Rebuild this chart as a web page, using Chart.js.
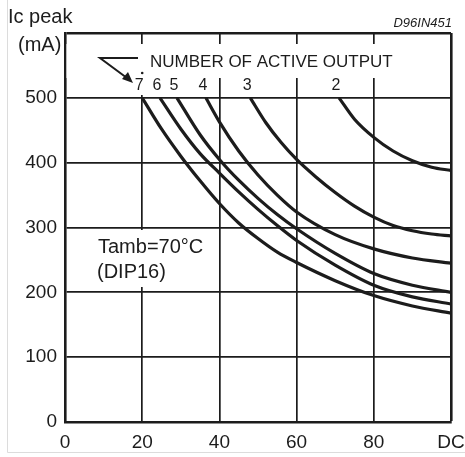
<!DOCTYPE html>
<html>
<head>
<meta charset="utf-8">
<script src="https://cdn.jsdelivr.net/npm/chart.js@4.4.1/dist/chart.umd.min.js"></script>
<style>
  body { margin: 0; background: #fff; }
  canvas { display: block; }
</style>
</head>
<body>
<canvas id="myChart" width="465" height="457"></canvas>
<script>
// duty cycle (%) and Ic peak (mA), one pair per number of active outputs
const dc7 = [20, 25, 30, 35, 40, 45, 50, 55, 60, 70, 80, 90, 100];
const ic7 = [500, 452, 410, 372, 337, 307, 283, 262, 246, 218, 195, 179, 168];

const dc6 = [24.6, 30, 35, 40, 45, 50, 55, 60, 70, 80, 90, 100];
const ic6 = [500, 452, 414, 384, 355, 328, 303, 280, 242, 211, 193, 182];

const dc5 = [29, 35, 40, 45, 50, 55, 60, 70, 80, 90, 100];
const ic5 = [500, 443, 405, 373, 345, 320, 298, 260, 229, 211, 200];

const dc4 = [36.5, 40, 45, 50, 55, 60, 70, 80, 90, 100];
const ic4 = [500, 463, 418, 381, 350, 324, 289, 267, 253, 245];

const dc3 = [48, 52, 56, 60, 65, 70, 75, 80, 85, 90, 95, 100];
const ic3 = [500, 462, 431, 405, 378, 354, 333, 316, 303, 295, 290, 287];

const dc2 = [71, 75, 80, 85, 90, 95, 100];
const ic2 = [500, 467, 439, 418, 403, 393, 388];

const outputLabels = ['7', '6', '5', '4', '3', '2'];
const yTicks = [0, 100, 200, 300, 400, 500];
const xTicks = [0, 20, 40, 60, 80, 'DC'];

const curves = [[dc7, ic7], [dc6, ic6], [dc5, ic5], [dc4, ic4], [dc3, ic3], [dc2, ic2]];

const ink = '#1c1c1c';
const font = '"Liberation Sans", Arial, Helvetica, sans-serif';

const datasets = curves.map((c, i) => ({
    label: outputLabels[i],
    data: c[0].map((x, j) => ({ x: x, y: c[1][j] })),
    borderColor: ink,
    borderWidth: 3.2,
    pointRadius: 0,
    fill: false,
    cubicInterpolationMode: 'monotone'
}));

// annotations: white gaps in the grid, labels, arrow, titles
const annotate = {
    id: 'annotate',
    beforeDraw(chart) {
        const c = chart.ctx;
        c.save();
        c.fillStyle = '#fff';
        c.fillRect(0, 0, chart.width, chart.height);
        c.restore();
    },
    afterDraw(chart) {
        const c = chart.ctx;
        const a = chart.chartArea;
        const xs = chart.scales.x;
        c.save();

        // faint frame of the original figure
        c.strokeStyle = '#dcdcdc';
        c.lineWidth = 1;
        c.beginPath();
        c.moveTo(7.5, 0);
        c.lineTo(7.5, 452.5);
        c.lineTo(465, 452.5);
        c.stroke();

        // gap in the top band for the legend text
        c.fillStyle = '#fff';
        c.fillRect(a.left + 1.5, 44, a.right - a.left - 3, 34);
        const x20 = xs.getPixelForValue(20);
        c.fillRect(x20 - 3, 44, 6, 51);
        c.fillStyle = ink;
        c.beginPath();
        c.arc(x20, 73, 1.3, 0, Math.PI * 2);
        c.fill();

        // gap behind the Tamb note
        c.fillStyle = '#fff';
        c.fillRect(92, 230, 118, 57);

        c.fillStyle = ink;
        c.textBaseline = 'alphabetic';
        c.textAlign = 'left';
        c.font = '17px ' + font;
        c.fillText('NUMBER OF ACTIVE OUTPUT', 150, 67);

        // curve numbers just left of where each curve leaves 500 mA
        c.font = '16px ' + font;
        c.textAlign = 'center';
        curves.forEach((cv, i) => {
            const px = xs.getPixelForValue(cv[0][0]) - 3;
            c.fillText(outputLabels[i], px, 90);
        });

        // arrow
        c.strokeStyle = ink;
        c.lineWidth = 2;
        c.beginPath();
        c.moveTo(138, 58);
        c.lineTo(100, 58);
        c.lineTo(127, 78);
        c.stroke();
        c.beginPath();
        c.moveTo(133, 83);
        c.lineTo(122, 79);
        c.lineTo(128, 72);
        c.closePath();
        c.fill();

        c.textAlign = 'left';
        c.font = '20px ' + font;
        c.fillText('Tamb=70\u00B0C', 98, 253);
        c.fillText('(DIP16)', 97, 278);

        c.fillText('Ic peak', 8, 23);
        c.fillText('(mA)', 18, 51);

        c.font = 'italic 13px ' + font;
        c.textAlign = 'right';
        c.fillText('D96IN451', 452, 27);
        c.restore();
    }
};

const ctx = document.getElementById('myChart').getContext('2d');
new Chart(ctx, {
    type: 'line',
    data: { datasets: datasets },
    options: {
        responsive: false,
        animation: false,
        devicePixelRatio: 1,
        layout: { padding: { top: 33, right: 14, left: 0, bottom: 0 } },
        plugins: {
            legend: { display: false },
            tooltip: { enabled: false }
        },
        scales: {
            x: {
                type: 'linear',
                min: 0,
                max: 100,
                afterBuildTicks: s => { s.ticks = xTicks.map((t, i) => ({ value: i * 20 })); },
                afterFit: s => {
                    s.height = 35;
                    s.paddingLeft = 0;
                    s.paddingRight = 0;
                },
                ticks: {
                    color: ink,
                    font: { family: font, size: 19 },
                    padding: 9,
                    maxRotation: 0,
                    callback: (v, i) => xTicks[i]
                },
                grid: {
                    color: ink,
                    drawTicks: false,
                    lineWidth: c => (c.tick && c.tick.value === 100 ? 2.6 : 1.7)
                },
                border: { color: ink, width: 2.6 }
            },
            y: {
                min: 0,
                max: 600,
                afterBuildTicks: s => { s.ticks = yTicks.concat([600]).map(v => ({ value: v })); },
                afterFit: s => {
                    s.width = 65;
                    s.paddingTop = 0;
                    s.paddingBottom = 0;
                },
                ticks: {
                    color: ink,
                    font: { family: font, size: 19 },
                    padding: 8,
                    callback: v => (yTicks.includes(v) ? v : '')
                },
                grid: {
                    color: ink,
                    drawTicks: false,
                    lineWidth: c => (c.tick && c.tick.value === 600 ? 2.6 : 1.7)
                },
                border: { color: ink, width: 2.6 }
            }
        }
    },
    plugins: [annotate]
});
</script>
</body>
</html>
